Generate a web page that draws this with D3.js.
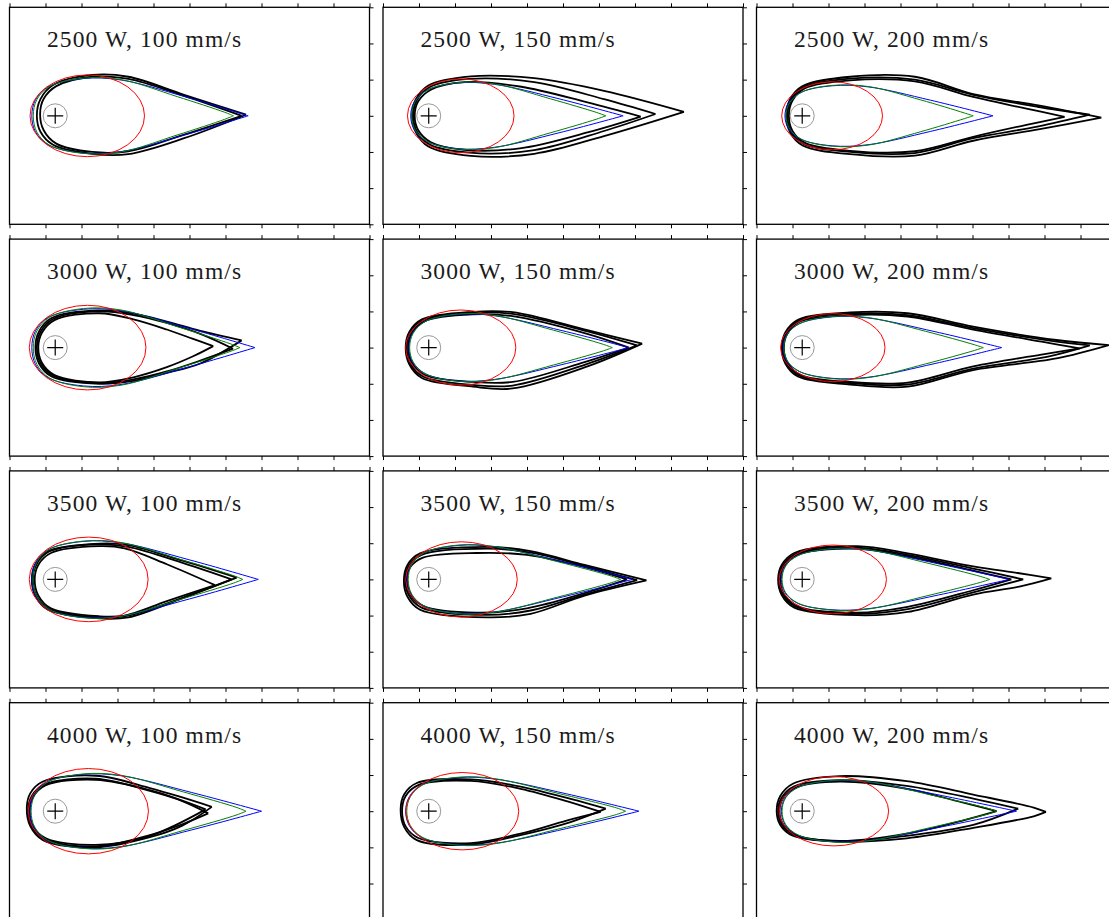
<!DOCTYPE html>
<html>
<head>
<meta charset="utf-8">
<script src="https://cdn.jsdelivr.net/npm/d3@7"></script>
<style>
body{margin:0;background:#fff;}
</style>
</head>
<body>
<svg id="chart" width="1109" height="917"></svg>
<script>
// panel grid: rows = laser power, columns = scan speed
const powers=[2500,3000,3500,4000];
const speeds=[100,150,200];
const xTickValues=[0,1,2,3,4,5,6,7,8,9,10];
const yTickValues=[-3,-2,-1,0,1,2,3];
const beamPos=[1.27,0];

// red: ellipse [cx, rx, ry] per panel (row-major)
const redEllipse=[
[2.16,1.59,1.13],[2.16,1.48,1.02],[2.10,1.40,0.94],
[2.17,1.62,1.17],[2.16,1.53,1.04],[2.12,1.45,0.94],
[2.20,1.65,1.17],[2.18,1.55,1.04],[2.12,1.49,0.95],
[2.19,1.67,1.18],[2.20,1.57,1.07],[2.15,1.52,0.96]];

// contours as profile rows [x, top, bottom], rear first, tip last
const blueContour=[
[[0.62,0,0],[0.72,0.44,-0.44],[1.07,0.8,-0.8],[2.05,1.03,-1.03],[3.1,0.99,-0.99],[4.87,0.53,-0.53],[6.63,0,0]],
[[0.77,0,0],[0.87,0.39,-0.39],[1.22,0.71,-0.71],[2.1,0.91,-0.91],[3.1,0.87,-0.87],[4.89,0.47,-0.47],[6.67,0,0]],
[[0.79,0,0],[0.89,0.36,-0.36],[1.24,0.65,-0.65],[2.1,0.83,-0.83],[3.1,0.8,-0.8],[4.84,0.43,-0.43],[6.57,0,0]],
[[0.62,0,0],[0.72,0.46,-0.46],[1.07,0.83,-0.83],[2.05,1.06,-1.06],[3.1,1.02,-1.02],[4.96,0.54,-0.54],[6.82,0,0]],
[[0.72,0,0],[0.82,0.4,-0.4],[1.17,0.72,-0.72],[2.1,0.92,-0.92],[3.1,0.88,-0.88],[4.97,0.47,-0.47],[6.83,0,0]],
[[0.74,0,0],[0.84,0.37,-0.37],[1.19,0.66,-0.66],[2.1,0.85,-0.85],[3.1,0.82,-0.82],[4.96,0.44,-0.44],[6.81,0,0]],
[[0.62,0,0],[0.72,0.45,-0.45],[1.07,0.82,-0.82],[2.05,1.05,-1.05],[3.1,1.01,-1.01],[5.0,0.54,-0.54],[6.91,0,0]],
[[0.68,0,0],[0.78,0.4,-0.4],[1.13,0.73,-0.73],[2.1,0.94,-0.94],[3.1,0.9,-0.9],[5.01,0.48,-0.48],[6.93,0,0]],
[[0.69,0,0],[0.79,0.36,-0.36],[1.14,0.66,-0.66],[2.1,0.84,-0.84],[3.1,0.81,-0.81],[5.06,0.43,-0.43],[7.02,0,0]],
[[0.57,0,0],[0.67,0.44,-0.44],[1.02,0.8,-0.8],[2.05,1.02,-1.02],[3.1,0.98,-0.98],[5.05,0.52,-0.52],[7.0,0,0]],
[[0.63,0,0],[0.73,0.4,-0.4],[1.08,0.73,-0.73],[2.1,0.93,-0.93],[3.1,0.89,-0.89],[5.1,0.48,-0.48],[7.11,0,0]],
[[0.69,0,0],[0.79,0.36,-0.36],[1.14,0.66,-0.66],[2.1,0.84,-0.84],[3.1,0.81,-0.81],[5.16,0.43,-0.43],[7.22,0,0]]];

const greenContour=[
[[0.66,0,0],[0.76,0.45,-0.45],[1.11,0.81,-0.81],[2.05,1.04,-1.04],[3.1,1.0,-1.0],[4.66,0.53,-0.53],[5.97,0.1,-0.1],[6.22,0,0]],
[[0.8,0,0],[0.9,0.4,-0.4],[1.25,0.72,-0.72],[2.1,0.92,-0.92],[3.1,0.88,-0.88],[4.65,0.47,-0.47],[5.94,0.09,-0.09],[6.19,0,0]],
[[0.82,0,0],[0.92,0.36,-0.36],[1.27,0.66,-0.66],[2.1,0.84,-0.84],[3.1,0.81,-0.81],[4.56,0.44,-0.44],[5.77,0.08,-0.08],[6.02,0,0]],
[[0.66,0,0],[0.76,0.46,-0.46],[1.11,0.84,-0.84],[2.05,1.08,-1.08],[3.1,1.04,-1.04],[4.75,0.55,-0.55],[6.15,0.1,-0.1],[6.4,0,0]],
[[0.74,0,0],[0.84,0.4,-0.4],[1.19,0.73,-0.73],[2.1,0.93,-0.93],[3.1,0.89,-0.89],[4.74,0.48,-0.48],[6.12,0.09,-0.09],[6.37,0,0]],
[[0.76,0,0],[0.86,0.37,-0.37],[1.21,0.67,-0.67],[2.1,0.86,-0.86],[3.1,0.83,-0.83],[4.7,0.45,-0.45],[6.05,0.08,-0.08],[6.3,0,0]],
[[0.65,0,0],[0.75,0.46,-0.46],[1.1,0.83,-0.83],[2.05,1.06,-1.06],[3.1,1.02,-1.02],[4.79,0.54,-0.54],[6.23,0.1,-0.1],[6.48,0,0]],
[[0.7,0,0],[0.8,0.41,-0.41],[1.15,0.74,-0.74],[2.1,0.95,-0.95],[3.1,0.91,-0.91],[4.85,0.49,-0.49],[6.35,0.09,-0.09],[6.6,0,0]],
[[0.71,0,0],[0.81,0.37,-0.37],[1.16,0.66,-0.66],[2.1,0.85,-0.85],[3.1,0.82,-0.82],[4.79,0.44,-0.44],[6.23,0.08,-0.08],[6.48,0,0]],
[[0.6,0,0],[0.7,0.44,-0.44],[1.05,0.8,-0.8],[2.05,1.03,-1.03],[3.1,0.99,-0.99],[4.84,0.53,-0.53],[6.32,0.1,-0.1],[6.57,0,0]],
[[0.66,0,0],[0.76,0.4,-0.4],[1.11,0.73,-0.73],[2.1,0.94,-0.94],[3.1,0.9,-0.9],[4.92,0.48,-0.48],[6.49,0.09,-0.09],[6.74,0,0]],
[[0.71,0,0],[0.81,0.37,-0.37],[1.16,0.66,-0.66],[2.1,0.85,-0.85],[3.1,0.82,-0.82],[4.89,0.44,-0.44],[6.42,0.08,-0.08],[6.67,0,0]]];

// measured melt pool outlines (2-3 per panel)
const blackContours=[
[[[0.76,0,0],[0.86,0.46,-0.44],[1.21,0.85,-0.8],[2.3,1.13,-1.05],[3.3,1.08,-1.06],[4.85,0.58,-0.62],[6.57,0.03,0.03]],
 [[0.85,0.05,0.05],[0.95,0.47,-0.4],[1.3,0.82,-0.77],[2.3,1.08,-1.0],[3.3,1.02,-0.98],[4.85,0.55,-0.52],[6.45,0,0]]],
[[[0.81,0,0],[0.91,0.45,-0.45],[1.26,0.84,-0.85],[2.44,1.09,-1.11],[4.2,1.04,-1.05],[6.14,0.69,-0.56],[8.36,0.11,0.11]],
 [[0.84,0,0],[0.94,0.43,-0.43],[1.29,0.79,-0.79],[2.4,1.02,-1.02],[4.2,0.93,-0.95],[6.14,0.46,-0.42],[7.57,0.05,0.05]],
 [[0.88,0,0],[0.98,0.4,-0.4],[1.33,0.72,-0.73],[2.25,0.93,-0.94],[3.8,0.81,-0.9],[5.68,0.37,-0.46],[7.16,-0.02,-0.02]]],
[[[0.83,0,0],[0.93,0.45,-0.45],[1.28,0.82,-0.82],[2.6,1.08,-1.06],[4.4,1.08,-1.1],[6.02,0.6,-0.69],[7.87,0.28,-0.37],[9.58,-0.05,-0.05]],
 [[0.86,0,0],[0.96,0.43,-0.43],[1.31,0.79,-0.78],[2.6,1.03,-1.0],[4.4,1.0,-1.03],[6.02,0.58,-0.62],[7.8,0.25,-0.3],[9.26,0.03,0.03]],
 [[0.9,0,0],[1.0,0.42,-0.42],[1.35,0.76,-0.75],[2.6,0.98,-0.97],[4.4,0.95,-0.98],[6.02,0.52,-0.58],[7.5,0.2,-0.25],[8.56,-0.03,-0.03]]],
[[[0.72,0,0],[0.82,0.45,-0.44],[1.17,0.82,-0.8],[2.5,1.03,-1.0],[3.44,0.94,-0.92],[4.37,0.72,-0.7],[5.3,0.46,-0.44],[6.45,0.2,0.2]],
 [[0.76,0,0],[0.86,0.43,-0.43],[1.21,0.79,-0.78],[2.5,1.0,-0.98],[3.44,0.9,-0.88],[4.37,0.68,-0.66],[5.3,0.38,-0.36],[6.21,-0.03,-0.03]],
 [[0.8,0,0],[0.9,0.41,-0.42],[1.25,0.76,-0.76],[2.5,0.95,-0.96],[3.44,0.78,-0.82],[4.37,0.5,-0.54],[5.1,0.24,-0.24],[5.66,0.04,0.04]]],
[[[0.63,0,0],[0.73,0.43,-0.46],[1.08,0.78,-0.84],[2.5,0.99,-1.08],[3.6,0.98,-1.13],[5.68,0.48,-0.52],[7.2,0.11,0.11]],
 [[0.66,0,0],[0.76,0.42,-0.44],[1.11,0.76,-0.8],[2.5,0.96,-1.03],[3.6,0.93,-1.05],[5.68,0.45,-0.45],[7.06,0.06,0.06]],
 [[0.7,0,0],[0.8,0.4,-0.41],[1.15,0.73,-0.75],[2.5,0.92,-0.95],[3.6,0.87,-0.95],[5.6,0.4,-0.4],[6.83,0,0]]],
[[[0.7,0,0],[0.8,0.42,-0.44],[1.15,0.77,-0.8],[2.6,0.97,-1.02],[4.2,0.95,-1.08],[6.02,0.58,-0.62],[8.33,0.21,-0.3],[9.79,0.07,0.07]],
 [[0.73,0,0],[0.83,0.41,-0.42],[1.18,0.75,-0.77],[2.6,0.94,-0.98],[4.2,0.9,-1.02],[6.02,0.54,-0.58],[8.1,0.2,-0.25],[9.26,0.06,0.06]],
 [[0.76,0,0],[0.86,0.39,-0.41],[1.21,0.72,-0.75],[2.6,0.9,-0.95],[4.2,0.86,-0.97],[6.02,0.5,-0.52],[8.0,0.15,-0.18],[8.98,-0.02,-0.02]]],
[[[0.62,0,0],[0.72,0.43,-0.46],[1.07,0.78,-0.84],[2.5,0.99,-1.08],[3.3,0.95,-1.05],[4.83,0.51,-0.51],[6.31,0.05,0.05]],
 [[0.65,0,0],[0.75,0.42,-0.45],[1.1,0.77,-0.82],[2.5,0.97,-1.05],[3.3,0.9,-1.0],[4.83,0.45,-0.5],[6.17,0,0]],
 [[0.7,0,0],[0.8,0.4,-0.44],[1.15,0.73,-0.8],[2.5,0.92,-1.02],[3.2,0.86,-1.0],[4.37,0.42,-0.6],[5.71,-0.16,-0.16]]],
[[[0.58,-0.05,-0.05],[0.68,0.4,-0.48],[1.03,0.72,-0.84],[2.9,0.9,-1.05],[4.1,0.78,-0.95],[5.6,0.4,-0.45],[7.32,-0.03,-0.03]],
 [[0.62,0,0],[0.72,0.38,-0.44],[1.07,0.68,-0.78],[2.9,0.85,-0.98],[4.1,0.74,-0.86],[5.6,0.37,-0.42],[7.06,-0.02,-0.02]],
 [[0.66,0,0],[0.76,0.34,-0.42],[1.11,0.6,-0.73],[2.6,0.73,-0.92],[4.0,0.68,-0.8],[5.6,0.34,-0.38],[6.78,0,0]]],
[[[0.6,0,0],[0.7,0.4,-0.43],[1.05,0.73,-0.78],[2.8,0.92,-0.99],[4.2,0.72,-0.9],[6.02,0.36,-0.42],[7.3,0.17,-0.2],[8.19,0.03,0.03]],
 [[0.63,0,0],[0.73,0.38,-0.41],[1.08,0.7,-0.75],[2.8,0.88,-0.95],[4.2,0.68,-0.82],[6.02,0.3,-0.36],[7.41,0,0]],
 [[0.66,0,0],[0.76,0.37,-0.4],[1.11,0.68,-0.73],[2.8,0.85,-0.92],[4.2,0.64,-0.76],[6.02,0.24,-0.3],[7.08,0,0]]],
[[[0.48,0.1,0.1],[0.58,0.5,-0.42],[0.93,0.82,-0.8],[2.4,0.98,-1.0],[3.9,0.64,-0.72],[4.8,0.38,-0.4],[5.62,0.12,0.12]],
 [[0.52,0,0],[0.62,0.42,-0.44],[0.97,0.74,-0.78],[2.4,0.9,-0.97],[3.9,0.56,-0.66],[4.8,0.28,-0.36],[5.52,-0.06,-0.06]],
 [[0.56,0,0],[0.66,0.4,-0.42],[1.01,0.72,-0.75],[2.4,0.87,-0.93],[3.9,0.58,-0.68],[5.45,0.05,0.05]]],
[[[0.49,0.05,0.05],[0.59,0.47,-0.44],[0.94,0.78,-0.8],[2.44,0.88,-0.92],[3.82,0.68,-0.66],[5.21,0.34,-0.3],[6.19,0.07,0.07]],
 [[0.53,0,0],[0.63,0.42,-0.42],[0.98,0.72,-0.74],[2.44,0.84,-0.88],[3.82,0.62,-0.62],[5.1,0.28,-0.26],[6.05,-0.02,-0.02]]],
[[[0.56,0,0],[0.66,0.42,-0.38],[1.01,0.76,-0.68],[2.31,0.97,-0.84],[4.17,0.83,-0.75],[6.02,0.46,-0.46],[7.7,0.1,-0.14],[8.04,-0.02,-0.02]],
 [[0.6,0,0],[0.7,0.38,-0.37],[1.05,0.69,-0.66],[2.31,0.86,-0.83],[4.17,0.7,-0.68],[6.02,0.35,-0.38],[7.27,0.07,0.07]],
 [[0.64,0,0],[0.74,0.36,-0.36],[1.09,0.65,-0.65],[2.31,0.82,-0.82],[4.17,0.62,-0.62],[5.8,0.22,-0.24],[6.67,0,0]]]];

const svg=d3.select("#chart");
const pw=360, ph=217;
const x=d3.scaleLinear().domain([0,10]).range([0,pw]);
const y=d3.scaleLinear().domain([-3,3]).range([ph,0]);

const line=d3.line()
  .x(d=>x(d[0])).y(d=>y(d[1]))
  .curve(d3.curveCatmullRom.alpha(0.5));

// tip -> over the top to the rear -> back along the bottom to the tip
function outline(rows){
  const n=rows.length, pts=[];
  pts.push([rows[n-1][0],rows[n-1][1]]);
  for(let i=n-2;i>=1;i--) pts.push([rows[i][0],rows[i][1]]);
  pts.push([rows[0][0],rows[0][1]]);
  for(let i=1;i<=n-2;i++) pts.push([rows[i][0],rows[i][2]]);
  pts.push([rows[n-1][0],rows[n-1][2]]);
  return line(pts);
}

powers.forEach(function(pw_,r){
  speeds.forEach(function(sp,c){
    const k=r*speeds.length+c;
    const g=svg.append("g")
      .attr("transform","translate("+(9.5+c*373.5)+","+(7.3+r*231.8)+")");

    g.append("text")
      .attr("x",37.5).attr("y",40)
      .attr("font-family","'Liberation Serif','Times New Roman',serif")
      .attr("font-size",23.5)
      .attr("letter-spacing",1.1)
      .attr("fill","#1a1a1a")
      .text(pw_+" W, "+sp+" mm/s");

    blackContours[k].forEach(function(rows){
      g.append("path").attr("d",outline(rows))
        .attr("fill","none").attr("stroke","#000")
        .attr("stroke-width",1.8).attr("stroke-linejoin","round");
    });
    g.append("path").attr("d",outline(blueContour[k]))
      .attr("fill","none").attr("stroke","#0000ff").attr("stroke-width",1);
    g.append("path").attr("d",outline(greenContour[k]))
      .attr("fill","none").attr("stroke","#007f00").attr("stroke-width",1);

    const e=redEllipse[k];
    g.append("ellipse")
      .attr("cx",x(e[0])).attr("cy",y(0))
      .attr("rx",x(e[1])-x(0)).attr("ry",y(0)-y(e[2]))
      .attr("fill","none").attr("stroke","#ff0000").attr("stroke-width",1);

    // beam position marker
    g.append("circle")
      .attr("cx",x(beamPos[0])).attr("cy",y(beamPos[1])).attr("r",12)
      .attr("fill","none").attr("stroke","#999").attr("stroke-width",1);
    g.append("path")
      .attr("d","M"+(x(beamPos[0])-8)+","+y(beamPos[1])+"h16M"+x(beamPos[0])+","+(y(beamPos[1])-8)+"v16")
      .attr("stroke","#000").attr("stroke-width",1.2);

    // frame and outward ticks
    g.append("rect").attr("width",pw).attr("height",ph)
      .attr("fill","none").attr("stroke","#000").attr("stroke-width",1.3);
    const top=g.append("g").call(d3.axisTop(x).tickValues(xTickValues).tickSize(4).tickFormat(""));
    const bot=g.append("g").attr("transform","translate(0,"+ph+")")
      .call(d3.axisBottom(x).tickValues(xTickValues).tickSize(4).tickFormat(""));
    const rgt=g.append("g").attr("transform","translate("+pw+",0)")
      .call(d3.axisRight(y).tickValues(yTickValues).tickSize(4).tickFormat(""));
    [top,bot,rgt].forEach(a=>{
      a.select(".domain").remove();
      a.selectAll("line").attr("stroke","#000").attr("stroke-width",1);
    });
  });
});
</script>
</body>
</html>
